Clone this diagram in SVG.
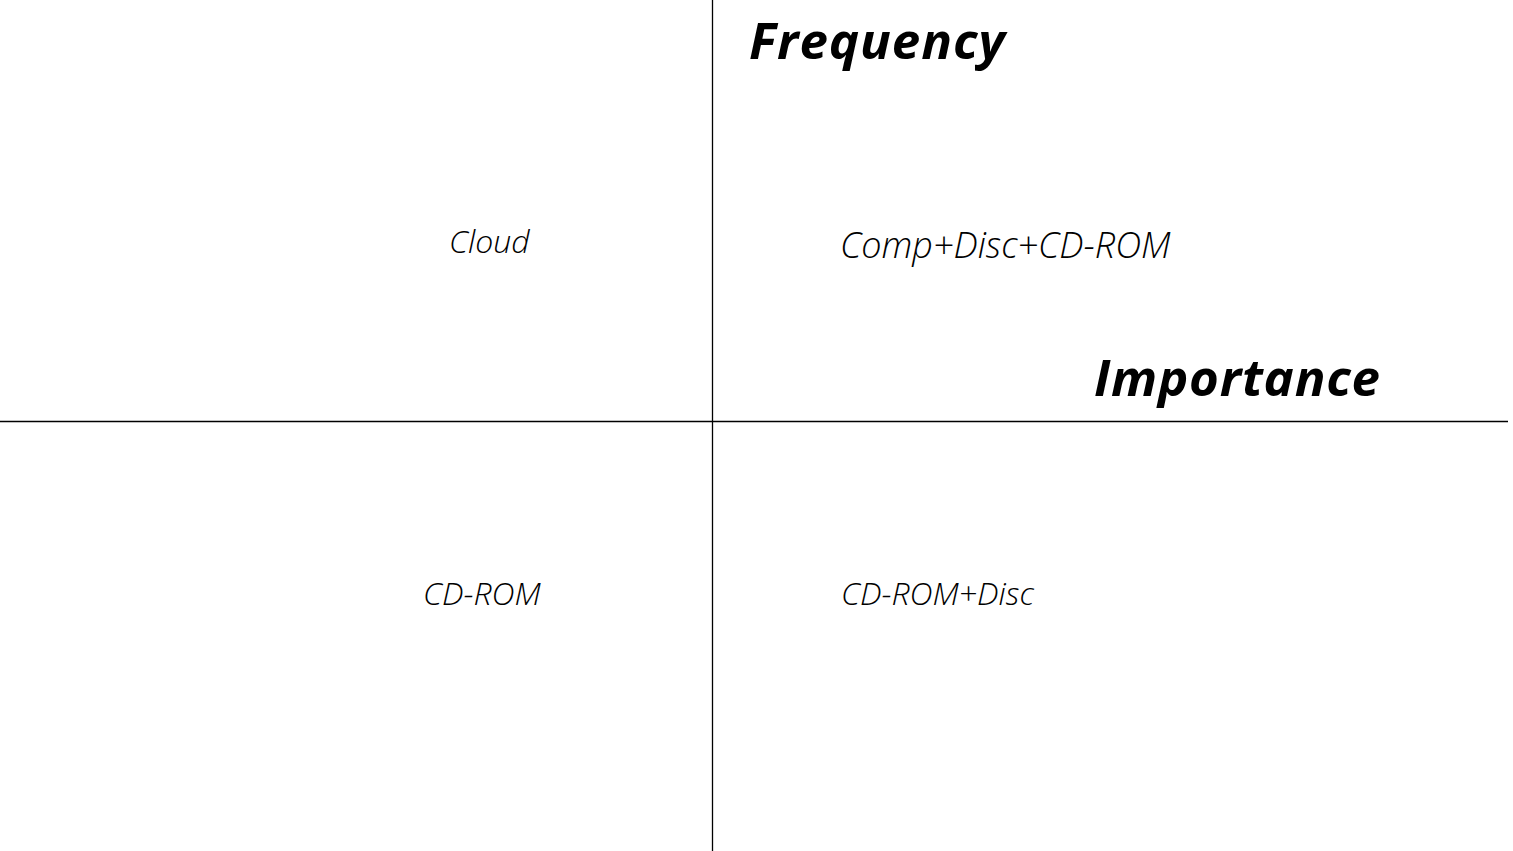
<svg xmlns="http://www.w3.org/2000/svg" width="1513" height="851" viewBox="0 0 1513 851">
<style>
.axis{stroke:#000;stroke-width:1.3;fill:none}
.lbl{font-family:"Open Sans","Noto Sans",sans-serif;font-style:italic;font-weight:300;font-size:32px;fill:#000}
.big{font-size:36px}
.ttl{font-family:"Open Sans","Noto Sans",sans-serif;font-style:italic;font-weight:700;font-size:51px;fill:#000}
</style>
<rect width="1513" height="851" fill="#fff"/>
<g id="connectors">
<line class="axis" x1="712.5" y1="0" x2="712.5" y2="851"/>
<line class="axis" x1="0" y1="421.5" x2="1508" y2="421.5"/>
</g>
<g id="frequency"><text class="ttl" x="749" y="59" textLength="256" lengthAdjust="spacing">Frequency</text></g>
<g id="importance"><text class="ttl" x="1094" y="396" textLength="286" lengthAdjust="spacing">Importance</text></g>
<g id="cloud"><text class="lbl" x="449" y="253">Cloud</text></g>
<g id="comp-disc-cdrom"><text class="lbl big" x="840" y="258">Comp+Disc+CD-ROM</text></g>
<g id="cdrom"><text class="lbl" x="423" y="605">CD-ROM</text></g>
<g id="cdrom-disc"><text class="lbl" x="841" y="605">CD-ROM+Disc</text></g>
</svg>
